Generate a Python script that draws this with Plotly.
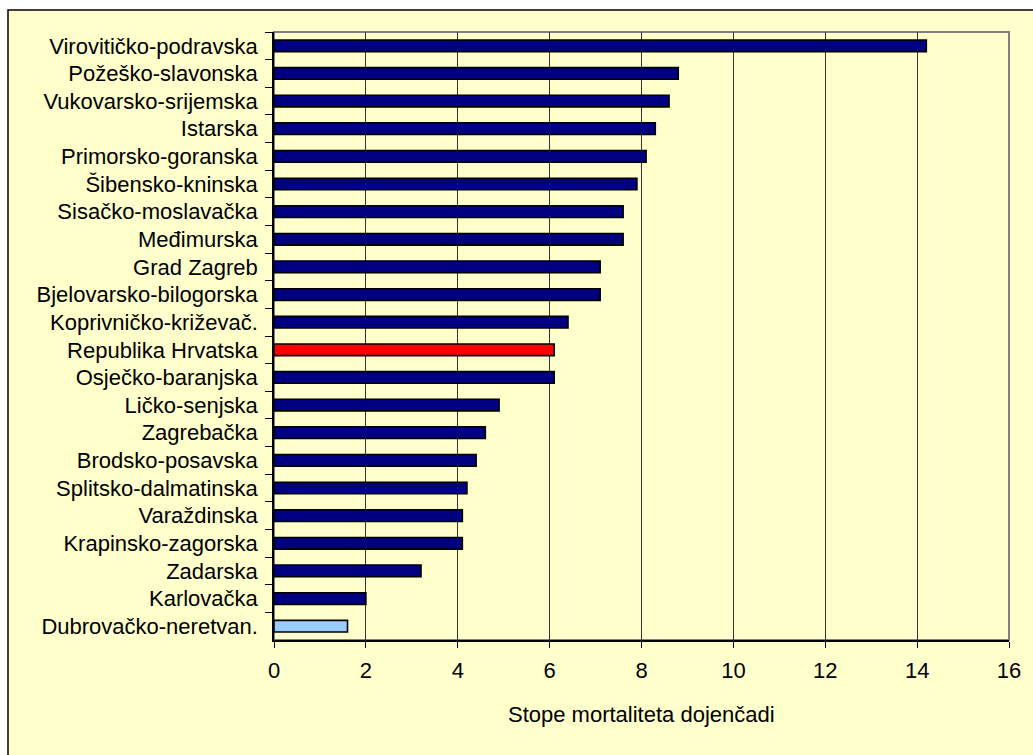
import plotly.graph_objects as go

counties = [
    "Virovitičko-podravska", "Požeško-slavonska", "Vukovarsko-srijemska", "Istarska",
    "Primorsko-goranska", "Šibensko-kninska", "Sisačko-moslavačka", "Međimurska",
    "Grad Zagreb", "Bjelovarsko-bilogorska", "Koprivničko-križevač.", "Republika Hrvatska",
    "Osječko-baranjska", "Ličko-senjska", "Zagrebačka", "Brodsko-posavska",
    "Splitsko-dalmatinska", "Varaždinska", "Krapinsko-zagorska", "Zadarska",
    "Karlovačka", "Dubrovačko-neretvan.",
]
rates = [14.2, 8.8, 8.6, 8.3, 8.1, 7.9, 7.6, 7.6, 7.1, 7.1, 6.4, 6.1,
         6.1, 4.9, 4.6, 4.4, 4.2, 4.1, 4.1, 3.2, 2.0, 1.6]
x_ticks = [0, 2, 4, 6, 8, 10, 12, 14, 16]
axis_title = "Stope mortaliteta dojenčadi"

NAVY, RED, LIGHT = "#000080", "#FF0000", "#99CCFF"
colors = []
for c in counties:
    if c == "Republika Hrvatska":
        colors.append(RED)
    elif c == "Dubrovačko-neretvan.":
        colors.append(LIGHT)
    else:
        colors.append(NAVY)

FONT = "Liberation Sans, Arial, sans-serif"
FS = 22
W, H = 1033, 755
L, R, T, B = 274, 24, 32, 115
pw, ph = W - L - R, H - T - B

def px_x(p):
    return (p - L) / pw

def px_y(p):
    return (H - B - p) / ph

fig = go.Figure(go.Bar(
    x=rates, y=counties, orientation="h",
    marker=dict(color=colors, line=dict(color="black", width=1.6)),
    width=0.42,
))

fig.update_layout(
    width=W, height=H,
    margin=dict(l=L, r=R, t=T, b=B),
    paper_bgcolor="white",
    plot_bgcolor="rgba(0,0,0,0)",
    font=dict(family=FONT, size=FS, color="black"),
    showlegend=False,
    xaxis=dict(
        range=[0, 16], tickvals=x_ticks, ticks="outside", ticklen=6, tickwidth=1,
        tickcolor="black", showline=True, linecolor="black", linewidth=1.5,
        showgrid=True, gridcolor="#333333", gridwidth=1, zeroline=False,
        tickfont=dict(size=FS), ticklabelstandoff=4,
    ),
    yaxis=dict(
        type="category", autorange="reversed", ticks="outside", ticklen=7,
        tickwidth=1, tickcolor="black", tickson="boundaries", showline=True,
        linecolor="black", linewidth=1.5, showgrid=False, zeroline=False,
        tickfont=dict(size=FS), ticklabelstandoff=10,
    ),
    shapes=[
        dict(type="rect", xref="paper", yref="paper", layer="below",
             x0=px_x(8), x1=px_x(1040), y0=px_y(765), y1=px_y(10),
             fillcolor="#FFFFCC", line=dict(color="black", width=1.5)),
        dict(type="rect", xref="paper", yref="paper", layer="below",
             x0=0, x1=1, y0=0, y1=1,
             line=dict(color="#808080", width=2)),
    ],
    annotations=[
        dict(text=axis_title, xref="paper", yref="paper",
             x=0.5, y=px_y(714), xanchor="center", yanchor="middle",
             showarrow=False, font=dict(size=FS, family=FONT)),
    ],
)

fig.write_html("out.html", config={"displayModeBar": False},
               post_script="document.body.style.margin='0';")
